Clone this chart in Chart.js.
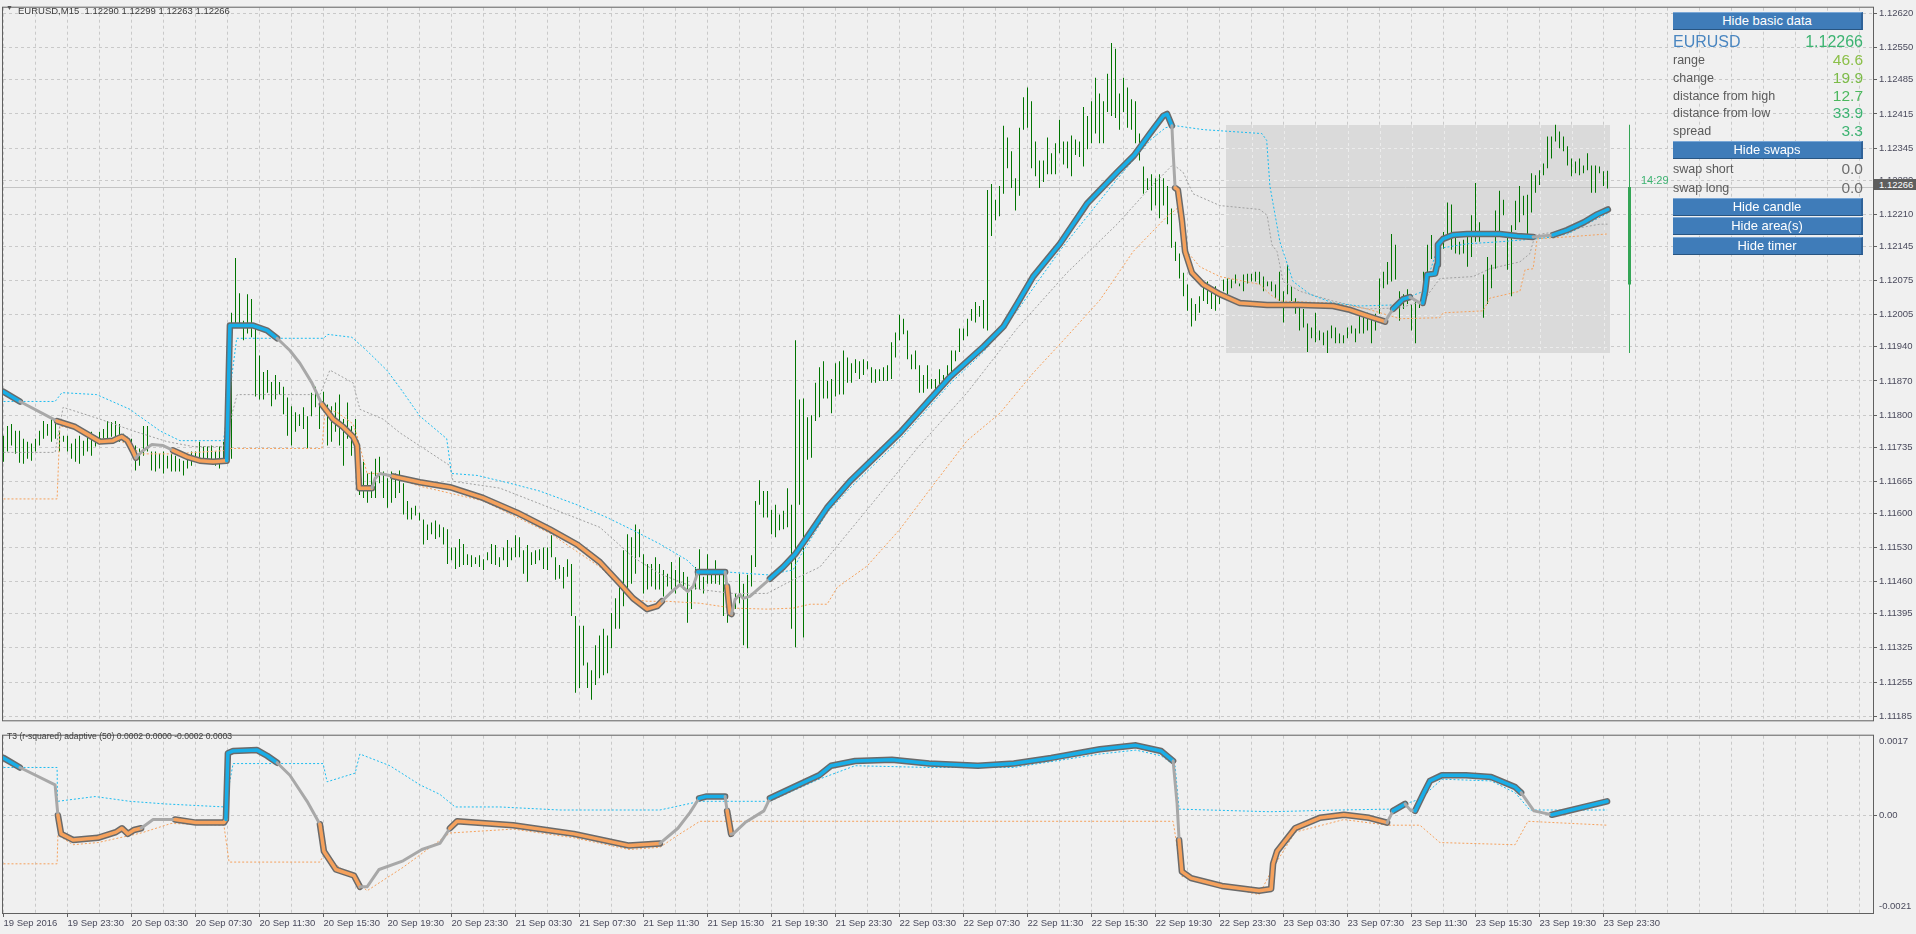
<!DOCTYPE html>
<html>
<head>
<meta charset="utf-8">
<script src="https://cdn.jsdelivr.net/npm/chart.js@4.4.0/dist/chart.umd.min.js"></script>
<style>
html, body { margin: 0; padding: 0; background: #f0f0f0; }
body { width: 1916px; height: 934px; position: relative; overflow: hidden; font-family: "Liberation Sans", Arial, sans-serif; }
.wrap { position: absolute; left: 0; width: 1916px; }
#mainWrap { top: 0; height: 728px; }
#subWrap { top: 728px; height: 206px; }
.txt { position: absolute; white-space: nowrap; }
.title { font-size: 9.5px; color: #3c3c3c; }
.btn { position: absolute; left: 1673px; width: 188px; height: 16px; line-height: 16px; background: #3f7cb9;
  border-top: 1px solid #7aa7d6; border-bottom: 1px solid #285582; border-right: 2px solid #2f6299;
  color: #fff; font-size: 13px; text-align: center; }
.lbl { position: absolute; left: 1673px; font-size: 12.5px; color: #5a5a5a; line-height: 18px; height: 18px; }
.val { position: absolute; right: 53px; font-size: 15.5px; line-height: 18px; height: 18px; text-align: right; }
</style>
</head>
<body>
<div id="mainWrap" class="wrap"><canvas id="mainChart"></canvas></div>
<div id="subWrap" class="wrap"><canvas id="subChart"></canvas></div>

<div class="txt" style="left:6px;top:4px;font-size:7px;color:#555;">&#9660;</div>
<div class="txt title" style="left:18px;top:5px;">EURUSD,M15&nbsp; 1.12290 1.12299 1.12263 1.12266</div>
<div class="txt title" style="left:7px;top:731px;font-size:8.6px;">T3 (r-squared) adaptive (50) 0.0002 0.0000 -0.0002 0.0003</div>
<div class="txt" style="left:1874px;top:179px;width:42px;height:11px;line-height:11px;background:#5e5e5e;color:#fff;font-size:9.5px;padding-left:5px;box-sizing:border-box;">1.12266</div>
<div class="txt" style="left:1641px;top:174px;font-size:11px;color:#3cb371;">14:29</div>

<div class="btn" style="top:12px;">Hide basic data</div>
<div class="lbl" style="top:33px;font-size:16px;color:#4a86c0;">EURUSD</div>
<div class="val" style="top:33px;font-size:16px;color:#3cb371;">1.12266</div>
<div class="lbl" style="top:51px;">range</div>
<div class="val" style="top:51px;color:#8cc04a;">46.6</div>
<div class="lbl" style="top:69px;">change</div>
<div class="val" style="top:69px;color:#7cbb48;">19.9</div>
<div class="lbl" style="top:87px;">distance from high</div>
<div class="val" style="top:87px;color:#4cb85e;">12.7</div>
<div class="lbl" style="top:104px;">distance from low</div>
<div class="val" style="top:104px;color:#3cb371;">33.9</div>
<div class="lbl" style="top:122px;">spread</div>
<div class="val" style="top:122px;color:#3cb371;">3.3</div>
<div class="btn" style="top:141px;">Hide swaps</div>
<div class="lbl" style="top:160px;">swap short</div>
<div class="val" style="top:160px;color:#6e6e6e;">0.0</div>
<div class="lbl" style="top:179px;">swap long</div>
<div class="val" style="top:179px;color:#6e6e6e;">0.0</div>
<div class="btn" style="top:198px;">Hide candle</div>
<div class="btn" style="top:217px;">Hide area(s)</div>
<div class="btn" style="top:237px;">Hide timer</div>

<script>
// time axis, one label every 16 bars (4 hours of M15)
const timeLabels = ['19 Sep 2016', '19 Sep 23:30', '20 Sep 03:30', '20 Sep 07:30', '20 Sep 11:30', '20 Sep 15:30',
  '20 Sep 19:30', '20 Sep 23:30', '21 Sep 03:30', '21 Sep 07:30', '21 Sep 11:30', '21 Sep 15:30', '21 Sep 19:30',
  '21 Sep 23:30', '22 Sep 03:30', '22 Sep 07:30', '22 Sep 11:30', '22 Sep 15:30', '22 Sep 19:30', '22 Sep 23:30',
  '23 Sep 03:30', '23 Sep 07:30', '23 Sep 11:30', '23 Sep 15:30', '23 Sep 19:30', '23 Sep 23:30'];
const priceTicks = [1.12620, 1.12550, 1.12485, 1.12415, 1.12345, 1.12280, 1.12210, 1.12145, 1.12075, 1.12005, 1.11940,
  1.11870, 1.11800, 1.11735, 1.11665, 1.11600, 1.11530, 1.11460, 1.11395, 1.11325, 1.11255, 1.11185];
const subTicks = [0.0017, 0, -0.0021];
const subTickLabels = ['0.0017', '0.00', '-0.0021'];

// M15 bars, high / low
const barHigh = [
  1.11758,1.11778,1.11782,1.11768,1.11768,1.11752,1.11746,1.11742,1.11752,1.11768,1.11788,1.11782,1.11792,1.11786,1.11768,1.11758,1.11758,1.11742,1.11752,1.11758,
  1.11748,1.11758,1.11766,1.11758,1.11766,1.11772,1.11788,1.11786,1.11788,1.11782,1.11762,1.11756,1.11752,1.11738,1.11732,1.11778,1.11778,1.11726,1.11726,1.11721,
  1.11726,1.11717,1.11721,1.11717,1.11711,1.11707,1.11711,1.11726,1.11726,1.11746,1.11736,1.11736,1.11738,1.11726,1.11736,1.11746,1.11758,1.12009,1.12121,1.12049,
  1.11993,1.12047,1.12037,1.11987,1.11922,1.11888,1.11892,1.11868,1.11882,1.11868,1.11858,1.11836,1.11818,1.11806,1.11802,1.11816,1.11798,1.11846,1.11858,1.11822,
  1.11848,1.11822,1.11818,1.11826,1.11842,1.11792,1.11826,1.11778,1.11792,1.11691,1.11705,1.11681,1.11685,1.11711,1.11715,1.11685,1.11671,1.11685,1.11681,1.11687,
  1.11661,1.11625,1.11611,1.11615,1.11601,1.11587,1.11577,1.11581,1.11585,1.11577,1.11571,1.11567,1.11530,1.11530,1.11547,1.11537,1.11516,1.11514,1.11510,1.11514,
  1.11506,1.11520,1.11537,1.11535,1.11510,1.11530,1.11545,1.11530,1.11555,1.11551,1.11524,1.11535,1.11520,1.11524,1.11526,1.11530,1.11530,1.11555,1.11510,1.11494,
  1.11490,1.11506,1.11496,1.11390,1.11370,1.11370,1.11295,1.11279,1.11330,1.11350,1.11364,1.11350,1.11396,1.11426,1.11450,1.11524,1.11557,1.11551,1.11577,1.11567,
  1.11516,1.11496,1.11496,1.11510,1.11496,1.11484,1.11476,1.11500,1.11484,1.11510,1.11480,1.11470,1.11450,1.11490,1.11526,1.11470,1.11516,1.11484,1.11504,1.11474,
  1.11474,1.11444,1.11410,1.11436,1.11476,1.11456,1.11474,1.11514,1.11625,1.11667,1.11645,1.11645,1.11607,1.11617,1.11597,1.11605,1.11651,1.11617,1.11953,1.11832,
  1.11834,1.11796,1.11800,1.11866,1.11898,1.11910,1.11870,1.11874,1.11906,1.11910,1.11932,1.11918,1.11906,1.11914,1.11910,1.11914,1.11910,1.11898,1.11894,1.11894,
  1.11898,1.11902,1.11949,1.11969,1.12005,1.11997,1.11973,1.11924,1.11932,1.11902,1.11882,1.11902,1.11874,1.11874,1.11894,1.11882,1.11902,1.11932,1.11932,1.11977,
  1.11977,1.11997,1.12017,1.12031,1.12023,1.12035,1.12260,1.12272,1.12240,1.12268,1.12391,1.12367,1.12339,1.12284,1.12387,1.12449,1.12469,1.12441,1.12359,1.12320,
  1.12320,1.12367,1.12335,1.12355,1.12403,1.12359,1.12359,1.12371,1.12363,1.12359,1.12429,1.12411,1.12441,1.12489,1.12457,1.12441,1.12497,1.12560,1.12548,1.12457,
  1.12489,1.12469,1.12445,1.12441,1.12375,1.12308,1.12284,1.12292,1.12284,1.12292,1.12284,1.12268,1.12222,1.12154,1.12130,1.12091,1.12067,1.12039,1.12027,1.12043,
  1.12067,1.12073,1.12057,1.12063,1.12053,1.12077,1.12079,1.12077,1.12087,1.12069,1.12087,1.12089,1.12089,1.12093,1.12093,1.12083,1.12073,1.12073,1.12067,1.12093,
  1.12053,1.12107,1.12063,1.12039,1.12019,1.12017,1.11987,1.11979,1.12009,1.11973,1.11969,1.11973,1.11983,1.11979,1.11967,1.11963,1.11979,1.11983,1.11977,1.12007,
  1.12007,1.12009,1.11999,1.12007,1.12079,1.12093,1.12113,1.12170,1.12148,1.12053,1.12047,1.12057,1.12027,1.12033,1.12027,1.12093,1.12148,1.12168,1.12148,1.12148,
  1.12174,1.12234,1.12230,1.12168,1.12154,1.12158,1.12170,1.12208,1.12274,1.12194,1.12087,1.12123,1.12107,1.12218,1.12258,1.12240,1.12170,1.12188,1.12238,1.12268,
  1.12248,1.12250,1.12294,1.12290,1.12300,1.12314,1.12369,1.12369,1.12393,1.12379,1.12369,1.12349,1.12324,1.12318,1.12324,1.12310,1.12335,1.12310,1.12310,1.12308,
  1.12298,1.12299];
const barLow = [
  1.11705,1.11726,1.11738,1.11721,1.11703,1.11701,1.11711,1.11707,1.11726,1.11738,1.11752,1.11758,1.11746,1.11752,1.11726,1.11746,1.11726,1.11711,1.11705,1.11701,
  1.11717,1.11726,1.11717,1.11736,1.11746,1.11752,1.11752,1.11756,1.11752,1.11746,1.11746,1.11738,1.11726,1.11687,1.11697,1.11717,1.11726,1.11687,1.11685,1.11691,
  1.11681,1.11691,1.11685,1.11685,1.11685,1.11677,1.11691,1.11697,1.11705,1.11707,1.11705,1.11711,1.11705,1.11697,1.11691,1.11707,1.11705,1.11711,1.11987,1.11979,
  1.11953,1.11967,1.11959,1.11838,1.11832,1.11832,1.11846,1.11818,1.11832,1.11842,1.11802,1.11758,1.11738,1.11766,1.11778,1.11772,1.11732,1.11798,1.11816,1.11772,
  1.11818,1.11738,1.11746,1.11766,1.11738,1.11697,1.11752,1.11717,1.11738,1.11637,1.11631,1.11621,1.11631,1.11631,1.11661,1.11631,1.11611,1.11621,1.11631,1.11641,
  1.11597,1.11587,1.11587,1.11595,1.11585,1.11536,1.11545,1.11557,1.11547,1.11551,1.11536,1.11496,1.11504,1.11486,1.11490,1.11494,1.11494,1.11490,1.11496,1.11490,
  1.11484,1.11504,1.11496,1.11494,1.11490,1.11504,1.11490,1.11504,1.11510,1.11510,1.11476,1.11460,1.11494,1.11496,1.11504,1.11486,1.11484,1.11510,1.11464,1.11466,
  1.11446,1.11470,1.11390,1.11233,1.11243,1.11289,1.11243,1.11219,1.11249,1.11263,1.11269,1.11273,1.11324,1.11364,1.11364,1.11410,1.11444,1.11456,1.11476,1.11510,
  1.11436,1.11444,1.11450,1.11444,1.11444,1.11430,1.11450,1.11444,1.11436,1.11456,1.11444,1.11376,1.11404,1.11444,1.11444,1.11436,1.11456,1.11456,1.11456,1.11454,
  1.11390,1.11376,1.11390,1.11404,1.11416,1.11330,1.11324,1.11450,1.11490,1.11617,1.11591,1.11591,1.11557,1.11551,1.11565,1.11567,1.11571,1.11364,1.11326,1.11617,
  1.11346,1.11709,1.11713,1.11788,1.11796,1.11834,1.11834,1.11804,1.11838,1.11842,1.11842,1.11866,1.11866,1.11886,1.11874,1.11882,1.11894,1.11866,1.11866,1.11870,
  1.11870,1.11870,1.11874,1.11918,1.11953,1.11965,1.11914,1.11894,1.11894,1.11846,1.11846,1.11854,1.11854,1.11850,1.11862,1.11870,1.11872,1.11886,1.11910,1.11929,
  1.11953,1.11961,1.11993,1.11989,1.12001,1.11977,1.11973,1.12166,1.12198,1.12206,1.12252,1.12304,1.12264,1.12218,1.12248,1.12383,1.12387,1.12304,1.12288,1.12264,
  1.12276,1.12292,1.12292,1.12292,1.12335,1.12312,1.12304,1.12288,1.12331,1.12327,1.12308,1.12343,1.12355,1.12375,1.12355,1.12355,1.12419,1.12411,1.12407,1.12383,
  1.12419,1.12387,1.12383,1.12355,1.12320,1.12252,1.12260,1.12218,1.12228,1.12202,1.12228,1.12190,1.12142,1.12115,1.12079,1.12043,1.12013,1.11981,1.11993,1.12009,
  1.12033,1.12027,1.12017,1.12013,1.12027,1.12053,1.12047,1.12059,1.12069,1.12063,1.12053,1.12069,1.12073,1.12073,1.12067,1.12053,1.12063,1.12053,1.12039,1.12033,
  1.11989,1.12047,1.12033,1.12007,1.11973,1.11979,1.11929,1.11957,1.11949,1.11953,1.11943,1.11927,1.11957,1.11947,1.11947,1.11947,1.11957,1.11967,1.11949,1.11967,
  1.11967,1.11973,1.11947,1.11973,1.12007,1.12059,1.12067,1.12073,1.12077,1.11993,1.12017,1.12027,1.11973,1.11947,1.12019,1.12033,1.12087,1.12119,1.12119,1.12134,
  1.12140,1.12168,1.12138,1.12130,1.12128,1.12130,1.12103,1.12123,1.12154,1.12154,1.11999,1.12027,1.12059,1.12099,1.12168,1.12208,1.12097,1.12043,1.12178,1.12194,
  1.12208,1.12170,1.12214,1.12254,1.12270,1.12290,1.12304,1.12324,1.12359,1.12345,1.12339,1.12310,1.12288,1.12294,1.12290,1.12294,1.12300,1.12254,1.12254,1.12294,
  1.12268,1.12263];

// T3 adaptive line (bar index, price) and trend of each segment: u up, d down, n neutral
const t3X = [0,4.1,13.4,17.9,24.1,27.4,28.4,29.6,31,32.4,33.1,34.6,37.1,39.9,42.4,45.9,49.1,52.4,55.8,56.6,
  62.4,65.9,68.4,71.6,74.1,77.1,79.6,82.4,84.9,87.4,88.4,88.9,92.1,92.9,94.1,96.6,97.4,104.1,111.6,119.9,
  128.4,136.6,143.4,149.1,154.1,157.4,160.9,163.4,164.6,166.6,169.1,171.1,172.4,173.6,180.4,180.9,181.6,182,182.9,184.1,
  184.9,186.6,191.6,194.9,197.9,200.9,205.9,211.6,224.1,236.6,245,250,253.4,257.4,264.1,270.9,278.4,282.6,286.6,289.9,
  290.9,292.1,292.4,292.9,293.6,294.6,295.4,297.1,299.9,304.1,309.1,315.9,324.1,332.4,336.6,340.9,345.4,346.6,347.4,349.9,
  351.6,354.1,354.8,355.4,355.9,357.9,358.4,358.6,359.9,362.4,365.9,374.1,378.4,382.4,387.4,390.9,395.1,398.4,401.1];
const t3Y = [1.11848,1.11828,1.11788,1.11776,1.11746,1.11748,1.11752,1.11756,1.11748,1.11726,1.11713,1.11726,1.11740,1.11738,1.11728,1.11715,1.11707,1.11705,1.11707,1.11983,
  1.11983,1.11973,1.11957,1.11932,1.11906,1.11866,1.11822,1.11792,1.11776,1.11756,1.11738,1.11651,1.11651,1.11671,1.11681,1.11677,1.11675,1.11663,1.11653,1.11631,
  1.11601,1.11567,1.11536,1.11500,1.11456,1.11426,1.11404,1.11410,1.11420,1.11436,1.11454,1.11440,1.11450,1.11480,1.11480,1.11450,1.11396,1.11394,1.11424,1.11434,
  1.11426,1.11430,1.11466,1.11490,1.11516,1.11551,1.11611,1.11665,1.11764,1.11878,1.11940,1.11981,1.12027,1.12083,1.12150,1.12232,1.12296,1.12330,1.12375,1.12411,
  1.12415,1.12391,1.12339,1.12264,1.12260,1.12198,1.12134,1.12091,1.12067,1.12047,1.12029,1.12025,1.12025,1.12023,1.12015,1.12003,1.11991,1.12007,1.12017,1.12037,
  1.12041,1.12029,1.12029,1.12053,1.12087,1.12089,1.12107,1.12148,1.12160,1.12168,1.12170,1.12170,1.12166,1.12164,1.12168,1.12178,1.12194,1.12210,1.12220];
const t3Dir = 'undddddddd' + 'nnnndddduuuunnnnddddddnnnn' + 'ddddddddddddnnnnnundd' + 'nnnnn' +
  'uuuuuuuuuuuuuuuuuuu' + 'nn' + 'ddddddddddddd' + 'nnuunn' + 'uuuuuuuuuuu' + 'n' + 'uuuuu';

// bands of the T3 envelope
const upX = [-1,12.9,14.6,23.3,31.6,39.1,44.1,55,58.3,80,81.1,87.1,90.8,95.8,99.1,104.1,110.8,112,118.4,126.6,
  134.1,143.4,150.9,157.4,164.1,170.9,173.4,190.9,197.4,199,205.9,211.6,224.1,236.6,245,253.4,264.1,278.4,286.6,290.5,
  293,300,314.6,315.8,316.6,319.1,322.4,326.6,332.4,339.1,347.4,350,355,358.5,366,374,383,387.4,391,401];
const upY = [1.11828,1.11828,1.11846,1.11842,1.11812,1.11768,1.11748,1.11748,1.11957,1.11957,1.11965,1.11959,1.11932,1.11892,1.11856,1.11798,1.11752,1.11681,1.11677,1.11661,
  1.11645,1.11617,1.11591,1.11565,1.11537,1.11504,1.11484,1.11474,1.11484,1.11510,1.11601,1.11651,1.11750,1.11864,1.11929,1.12013,1.12136,1.12282,1.12361,1.12387,
  1.12391,1.12383,1.12375,1.12361,1.12268,1.12154,1.12073,1.12047,1.12029,1.12023,1.12025,1.12037,1.12053,1.12140,1.12150,1.12154,1.12160,1.12164,1.12170,1.12212];
const midX = [-1,12.9,14.9,24.1,32.4,40.9,47.4,55,58.4,79.1,81.6,87.4,89.1,94.9,99.1,111.6,112.4,124.1,136.6,149.1,
  157.4,164.1,174.1,182.4,190.9,197.4,204.1,215.9,228.4,240.9,253.4,265.9,278.4,286.6,292.4,294.9,297.4,304.1,314.1,315.9,
  317.1,318.4,319.9,324.1,332.4,340.9,349.1,354.9,359.1,367.4,371.6,379.1,381.6,382.9,390.9,399.1,401];
const midY = [1.11724,1.11724,1.11816,1.11792,1.11768,1.11746,1.11736,1.11736,1.11842,1.11842,1.11892,1.11866,1.11812,1.11792,1.11764,1.11697,1.11665,1.11651,1.11611,1.11571,
  1.11510,1.11476,1.11444,1.11436,1.11436,1.11464,1.11490,1.11607,1.11732,1.11846,1.11977,1.12091,1.12190,1.12264,1.12312,1.12296,1.12252,1.12228,1.12220,1.12208,
  1.12148,1.12134,1.12073,1.12053,1.12033,1.12017,1.12019,1.12033,1.12079,1.12083,1.12099,1.12113,1.12130,1.12168,1.12178,1.12190,1.12190];
const loX = [-1,13.4,14.1,19.9,24.1,28.4,34.6,42.4,55.8,56.6,79.6,80.4,83.4,87.4,88.4,90.9,94.1,104.1,119.9,136.6,
  149.1,157.4,160.9,165.9,174.1,182.4,190.9,197.4,201.6,205.9,208.4,215.9,224.1,232.4,240.9,249.1,257.4,265.9,274.1,282.4,
  290.9,293.4,295.9,299.1,304.1,314.1,316.6,319.1,332.4,340.9,349.1,359.1,359.9,369.9,371.6,379.1,380.4,382.4,383.4,390.9,401];
const loY = [1.11629,1.11629,1.11778,1.11768,1.11752,1.11752,1.11721,1.11721,1.11728,1.11732,1.11732,1.11812,1.11806,1.11782,1.11758,1.11681,1.11681,1.11655,1.11625,1.11559,
  1.11490,1.11424,1.11420,1.11420,1.11416,1.11406,1.11404,1.11406,1.11414,1.11414,1.11448,1.11492,1.11567,1.11657,1.11748,1.11804,1.11886,1.11961,1.12035,1.12134,
  1.12206,1.12222,1.12134,1.12103,1.12083,1.12067,1.12047,1.12033,1.12029,1.12017,1.11997,1.11999,1.12009,1.12013,1.12039,1.12053,1.12097,1.12099,1.12160,1.12164,1.12170];

// today's area, daily candle and last price
const areaFrom = 305.5, areaTo = 401.5;
const dayHigh = 1.12393, dayLow = 1.11927, dayOpen = 1.12067, lastPrice = 1.12266;
const candleX = 406.5;

// T3 (r-squared) adaptive oscillator
const subX = [0,4.1,12.9,13.6,14.4,17.4,23.6,28.1,29.6,31.1,32.6,34.4,37.4,41.9,42.9,48.1,55.1,55.6,56.1,57.4,
  63.4,65.9,68.4,71.6,75.9,79.1,80.1,83.1,87.6,89.1,90.9,93.9,99.9,104.6,109.1,111.6,113.4,127.4,142.6,156.4,
  164.1,168.6,171.6,173.9,175.6,180.4,180.9,181.9,182.4,185.4,190.1,191.6,197.6,203.9,206.9,212.9,222.1,231.4,243.6,252.6,
  261.9,274.1,283.1,289.4,292.4,293.4,293.9,294.6,296.9,304.6,313.9,316.9,317.4,318.4,322.9,329.1,335.1,341.4,345.9,347.4,
  350.4,351.9,352.9,355.1,356.6,359.6,365.6,371.9,377.9,379.4,382.6,387.1,400.9];
const subY = [0.00132,0.00110,0.00070,0.00000,-0.00043,-0.00057,-0.00052,-0.00039,-0.00030,-0.00043,-0.00034,-0.00030,-0.00010,-0.00010,-0.00010,-0.00017,-0.00017,-0.00010,0.00143,0.00148,
  0.00150,0.00137,0.00121,0.00092,0.00032,-0.00021,-0.00083,-0.00125,-0.00139,-0.00165,-0.00165,-0.00125,-0.00105,-0.00079,-0.00065,-0.00030,-0.00014,-0.00023,-0.00043,-0.00070,
  -0.00065,-0.00030,0.00006,0.00039,0.00043,0.00043,0.00010,-0.00043,-0.00043,-0.00017,0.00010,0.00039,0.00065,0.00092,0.00114,0.00125,0.00128,0.00119,0.00114,0.00119,
  0.00132,0.00152,0.00161,0.00148,0.00125,0.00026,-0.00057,-0.00130,-0.00145,-0.00163,-0.00174,-0.00170,-0.00112,-0.00083,-0.00030,-0.00006,0.00001,-0.00006,-0.00017,0.00010,
  0.00026,0.00010,0.00010,0.00052,0.00079,0.00092,0.00092,0.00088,0.00065,0.00052,0.00010,0.00001,0.00032];
const subDir = 'unndddddddd' + 'nnnddduuuuunnndddd' + 'nnnnnndddddnnnuundnnnn' + 'uuuuuuuuuuuuunn' + 'ddddddddddddnunnuuuuuuunnuu';
const suX = [-1,13.4,13.5,22.9,31.6,40.4,55.4,57.4,79.9,80.9,87.9,89.1,96.6,104.1,109.1,112.9,124.1,139.1,164.1,174.1,
  191.6,197.6,203.9,212.9,231.4,252.6,274.1,283.1,289.4,292.9,293.9,316.6,334.1,346.6,350.4,354.1,359.6,371.9,377.9,381.6,400.9];
const suY = [0.00110,0.00110,0.00032,0.00043,0.00032,0.00026,0.00019,0.00119,0.00119,0.00077,0.00097,0.00141,0.00114,0.00070,0.00048,0.00019,0.00019,0.00012,0.00012,0.00032,
  0.00032,0.00057,0.00083,0.00114,0.00110,0.00110,0.00141,0.00150,0.00137,0.00114,0.00014,0.00008,0.00012,0.00014,0.00026,0.00037,0.00083,0.00079,0.00052,0.00012,0.00012];
const slX = [-1,13.4,13.6,17.4,23.6,34.4,41.9,55.1,56.4,79.1,80.1,87.6,90.9,99.9,111.6,127.4,142.6,156.4,164.1,168.6,
  174.1,292.4,294.6,313.9,317.4,322.9,335.1,345.9,354.1,359.1,377.9,381.1,400.9];
const slY = [-0.00112,-0.00112,-0.00046,-0.00068,-0.00063,-0.00041,-0.00019,-0.00023,-0.00108,-0.00108,-0.00090,-0.00148,-0.00174,-0.00120,-0.00041,-0.00032,-0.00052,-0.00079,-0.00074,-0.00046,
  -0.00014,-0.00014,-0.00141,-0.00183,-0.00121,-0.00039,-0.00010,-0.00023,-0.00023,-0.00063,-0.00068,-0.00014,-0.00023];

const UP = '#18aee8', DN = '#f5a15c', NEU = '#a8a8a8', EDGE = '#6a6a6a', NONE = 'rgba(0,0,0,0)';
const GRID = '#c9c9c9', AXIS = '#606060', TXT = '#4a4a5c', BARS = '#007400';
const FONT = { family: 'Liberation Sans', size: 9.5 };
const gridIdx = Array.from({ length: 59 }, (_, k) => k * 8);

Chart.defaults.animation = false;
Chart.defaults.events = [];

const pts = (xs, ys) => xs.map((x, k) => ({ x: x, y: ys[k] }));
const trendColor = dirs => c => ({ u: UP, d: DN, n: NEU })[dirs[c.p0DataIndex]];
const trendWidth = dirs => c => dirs[c.p0DataIndex] === 'n' ? 3 : 3.5;
const edgeColor = dirs => c => dirs[c.p0DataIndex] === 'n' ? NONE : EDGE;

function t3Sets(xs, ys, dirs) {
  return [
    { type: 'line', data: pts(xs, ys), borderColor: UP, borderWidth: 3.5, pointRadius: 0, order: 0,
      borderCapStyle: 'round', borderJoinStyle: 'round',
      segment: { borderColor: trendColor(dirs), borderWidth: trendWidth(dirs) } },
    { type: 'line', data: pts(xs, ys), borderColor: EDGE, borderWidth: 6.5, pointRadius: 0, order: 1,
      borderCapStyle: 'round', borderJoinStyle: 'round', segment: { borderColor: edgeColor(dirs) } }
  ];
}
const dotted = (xs, ys, color) => ({ type: 'line', data: pts(xs, ys), borderColor: color, borderWidth: 1,
  borderDash: [2, 2], pointRadius: 0, order: 2 });

const frame = {
  id: 'frame',
  afterDraw(c) {
    const a = c.chartArea, g = c.ctx;
    g.save();
    g.strokeStyle = AXIS;
    g.lineWidth = 1;
    g.strokeRect(a.left - 0.5, a.top - 0.5, a.right - a.left + 1, a.bottom - a.top + 1);
    g.restore();
  }
};

const areaBox = {
  id: 'areaBox',
  beforeDatasetsDraw(c) {
    const x = c.scales.x, y = c.scales.y, g = c.ctx, a = c.chartArea;
    const l = Math.round(x.getPixelForValue(areaFrom)), r = Math.round(x.getPixelForValue(areaTo));
    const t = Math.round(y.getPixelForValue(dayHigh)), b = Math.round(y.getPixelForValue(dayLow));
    g.save();
    g.fillStyle = '#dadada';
    g.fillRect(l, t, r - l, b - t);
    // grid seen through the area
    g.beginPath();
    g.rect(l, t, r - l, b - t);
    g.clip();
    g.strokeStyle = '#ececec';
    g.setLineDash([3, 3]);
    g.lineWidth = 1;
    gridIdx.forEach(v => {
      const px = Math.round(x.getPixelForValue(v)) + 0.5;
      g.beginPath(); g.moveTo(px, t); g.lineTo(px, b); g.stroke();
    });
    priceTicks.forEach(v => {
      const py = Math.round(y.getPixelForValue(v)) + 0.5;
      g.beginPath(); g.moveTo(l, py); g.lineTo(r, py); g.stroke();
    });
    g.restore();
    // last price line
    const py = Math.round(y.getPixelForValue(lastPrice)) + 0.5;
    g.save();
    g.strokeStyle = '#c4c4c4';
    g.beginPath(); g.moveTo(a.left, py); g.lineTo(a.right, py); g.stroke();
    g.restore();
  }
};

new Chart(document.getElementById('mainChart'), {
  type: 'line',
  data: {
    datasets: [
      ...t3Sets(t3X, t3Y, t3Dir),
      dotted(upX, upY, '#1cbcf0'),
      dotted(midX, midY, '#a0a0a0'),
      dotted(loX, loY, '#f5a15c'),
      { type: 'bar', data: barHigh.map((h, i) => ({ x: i, y: [barLow[i], h] })), backgroundColor: BARS,
        grouped: false, barThickness: 1, maxBarThickness: 1, inflateAmount: 0, order: 5 },
      { type: 'bar', data: [{ x: candleX, y: [dayLow, dayHigh] }], backgroundColor: '#33a555',
        grouped: false, barThickness: 1, maxBarThickness: 1, inflateAmount: 0, order: 5 },
      { type: 'bar', data: [{ x: candleX, y: [dayOpen, lastPrice] }], backgroundColor: '#33a555',
        grouped: false, barThickness: 3, maxBarThickness: 3, inflateAmount: 0, order: 5 }
    ]
  },
  options: {
    responsive: true,
    maintainAspectRatio: false,
    devicePixelRatio: 1,
    layout: { padding: { left: 3, top: 2, right: 0, bottom: 2 } },
    plugins: { legend: { display: false }, tooltip: { enabled: false } },
    scales: {
      x: {
        type: 'linear', min: -0.125, max: 467.375, offset: false,
        afterBuildTicks: s => { s.ticks = gridIdx.map(v => ({ value: v })); },
        afterFit: s => { s.height = 0; },
        ticks: { display: false },
        grid: { color: GRID, drawTicks: false, offset: false },
        border: { display: false, dash: [3, 3] }
      },
      y: {
        position: 'right', min: 1.11177, max: 1.12632, beginAtZero: false,
        afterBuildTicks: s => { s.ticks = priceTicks.map(v => ({ value: v })); },
        afterFit: s => { s.width = 43; },
        ticks: { callback: v => v.toFixed(5), font: FONT, color: TXT, padding: 2, autoSkip: false },
        grid: { color: GRID, tickColor: AXIS, tickLength: 4, tickBorderDash: [] },
        border: { display: false, dash: [3, 3] }
      }
    }
  },
  plugins: [areaBox, frame]
});

new Chart(document.getElementById('subChart'), {
  type: 'line',
  data: {
    datasets: [
      ...t3Sets(subX, subY, subDir),
      dotted(suX, suY, '#1cbcf0'),
      dotted(slX, slY, '#f5a15c')
    ]
  },
  options: {
    responsive: true,
    maintainAspectRatio: false,
    devicePixelRatio: 1,
    layout: { padding: { left: 3, top: 1, right: 0, bottom: 0 } },
    plugins: { legend: { display: false }, tooltip: { enabled: false } },
    scales: {
      x: {
        type: 'linear', min: -0.125, max: 467.375, offset: false,
        afterBuildTicks: s => { s.ticks = gridIdx.map(v => ({ value: v })); },
        afterFit: s => { s.height = 21; },
        ticks: {
          autoSkip: false, maxRotation: 0, minRotation: 0, align: 'start', padding: 1, font: FONT, color: TXT,
          callback: v => (v % 16 === 0 && v / 16 < timeLabels.length) ? timeLabels[v / 16] : ''
        },
        grid: {
          color: GRID, tickLength: 4, tickBorderDash: [], offset: false,
          tickColor: c => (c.tick && c.tick.value % 16 === 0 && c.tick.value <= 400) ? AXIS : NONE
        },
        border: { display: false, dash: [3, 3] }
      },
      y: {
        position: 'right', min: -0.002253, max: 0.001832,
        afterBuildTicks: s => { s.ticks = subTicks.map(v => ({ value: v })); },
        afterFit: s => { s.width = 43; },
        ticks: { callback: (v, i) => subTickLabels[i], font: FONT, color: TXT, padding: 2, autoSkip: false },
        grid: {
          tickLength: 4, tickBorderDash: [],
          color: c => (c.tick && c.tick.value === 0) ? GRID : NONE,
          tickColor: c => (c.tick && c.tick.value === 0) ? AXIS : NONE
        },
        border: { display: false, dash: [3, 3] }
      }
    }
  },
  plugins: [frame]
});
</script>
</body>
</html>
